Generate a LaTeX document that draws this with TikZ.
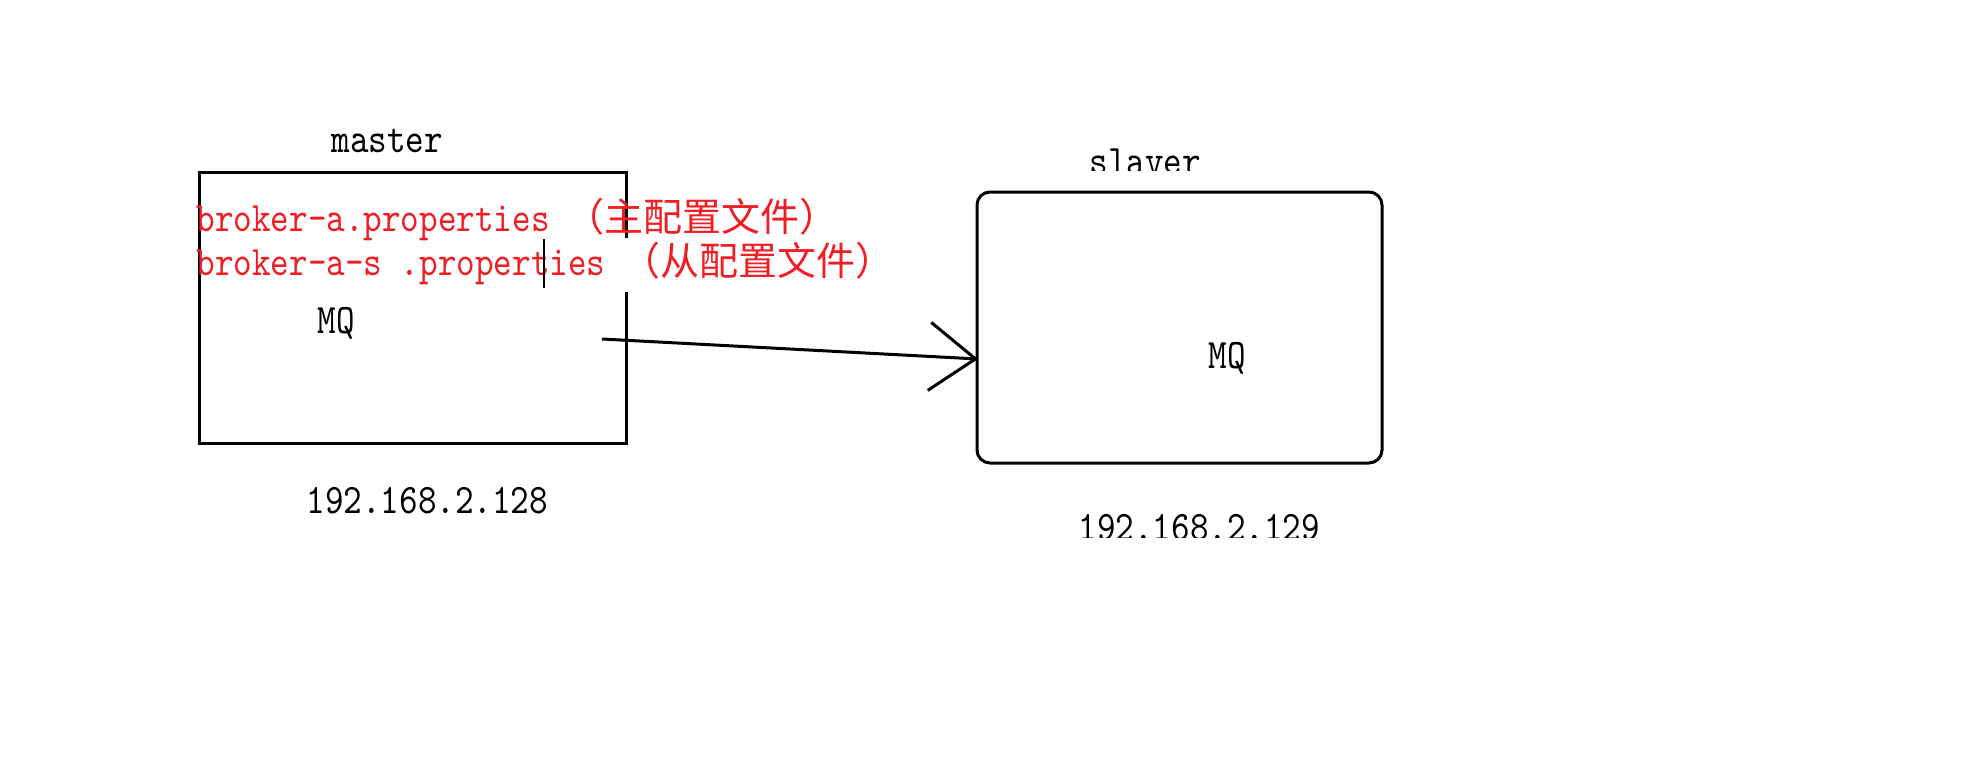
\documentclass[tikz,border=0pt]{standalone}
\usepackage{fontspec}
\newfontfamily\latfont{lmmono10-regular}[Extension=.otf,FakeStretch=0.843]
\newfontfamily\cjkfont{Noto Sans CJK SC}
\usepackage{tikz}
\usetikzlibrary{arrows.meta}
\definecolor{cfgred}{RGB}{238,30,36}

\begin{document}
\begin{tikzpicture}
  [x=1pt,y=-1pt,line width=3pt,
   every node/.style={inner sep=0pt,anchor=base west,font=\fontsize{42}{50}\selectfont\latfont},
   cfg/.style={text=cfgred},
   host/.style={draw,rounded corners=13pt,minimum width=405pt,minimum height=271pt,anchor=center}]
  \useasboundingbox (0,0) rectangle (1980,766);

  % master box, its right side is broken
  \coordinate (m1) at (626,238);
  \coordinate (m2) at (626,292);
  \draw (m1) -- (626,172) -- (199,172) -- (199,443) -- (626,443) -- (m2);

  % slaver box
  \node[host] (slave) at (1179.5,327.5) {};

  \node (mastername) at (330,152) {master};
  \node[cfg] (cfga) at (195,231) {broker-a.properties\hspace{16pt}{\cjkfont\fontsize{39}{46}\selectfont （主配置文件）}};
  \node[cfg] (cfgb) at (195,275) {broker-a-s\hspace{18.6pt}.properties\hspace{16pt}{\cjkfont\fontsize{39}{46}\selectfont （从配置文件）}};
  \node (mq1) at (316,333) {MQ};
  \node (ip1) at (305,513) {192.168.2.128};
  \node (mq2) at (1207,368) {MQ};

  % labels cut off at the bottom
  \begin{scope}
    \clip (1060,110) rectangle (1240,170);
    \node (slavename) at (1088,174) {slaver};
  \end{scope}
  \begin{scope}
    \clip (1050,490) rectangle (1350,537);
    \node (ip2) at (1077,540) {192.168.2.129};
  \end{scope}

  % cursor
  \draw[line width=2.5pt] (544,239) -- (544,288);

  \coordinate (tail) at (602,339);
  \coordinate (tip) at (978,359);
  \draw[-{Straight Barb[length=46pt,width=68pt]}] (tail) -- (tip);

\end{tikzpicture}
\end{document}
